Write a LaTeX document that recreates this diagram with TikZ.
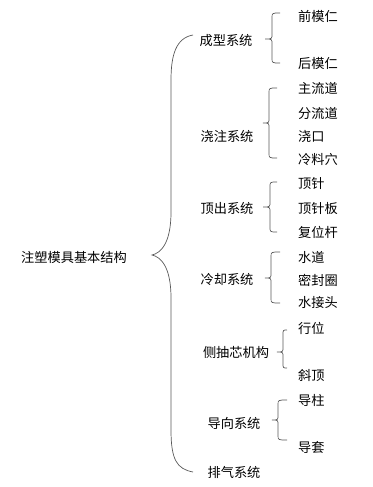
\documentclass[tikz,border=0pt]{standalone}
\usepackage{fontspec}
\setmainfont{Noto Sans CJK SC}
\begin{document}
\begin{tikzpicture}[x=1pt,y=-1pt,
  lbl/.style={inner sep=0pt,font=\fontsize{13.2}{14}\selectfont},
  bracel/.style={draw=black!65,line width=0.7pt}]
\useasboundingbox (0,0) rectangle (372,487);
\newcommand{\mybrace}[6]{% xtip xline xend ytop ytip ybot
  \draw[bracel] (#3,#4) .. controls (#2,#4) .. (#2,#4+5) -- (#2,#5-5)
    .. controls (#2,#5) .. (#1,#5) .. controls (#2,#5) .. (#2,#5+5)
    -- (#2,#6-5) .. controls (#2,#6) .. (#3,#6);}
% root
\node[lbl] (root) at (74,257) {注塑模具基本结构};
% big brace
\draw[bracel] (193,35) .. controls (176,38) and (171,55) .. (171,80) -- (171,212)
  .. controls (171,243) and (161,253) .. (152,255)
  .. controls (161,257) and (171,267) .. (171,298) -- (171,430)
  .. controls (171,460) and (177,469) .. (193,472);
% level 1
\node[lbl] (s1) at (226,41) {成型系统};
\node[lbl] (s2) at (227,136) {浇注系统};
\node[lbl] (s3) at (227,208) {顶出系统};
\node[lbl] (s4) at (227,279) {冷却系统};
\node[lbl] (s5) at (236,352) {侧抽芯机构};
\node[lbl] (s6) at (234,423) {导向系统};
\node[lbl] (s7) at (234,472) {排气系统};
% level 2
\node[lbl,anchor=west] (a1) at (298,16) {前模仁};
\node[lbl,anchor=west] (a2) at (298,63) {后模仁};
\node[lbl,anchor=west] (b1) at (298,88) {主流道};
\node[lbl,anchor=west] (b2) at (298,113) {分流道};
\node[lbl,anchor=west] (b3) at (298,136) {浇口};
\node[lbl,anchor=west] (b4) at (298,159) {冷料穴};
\node[lbl,anchor=west] (c1) at (298,184) {顶针};
\node[lbl,anchor=west] (c2) at (298,208) {顶针板};
\node[lbl,anchor=west] (c3) at (298,232) {复位杆};
\node[lbl,anchor=west] (d1) at (298,257) {水道};
\node[lbl,anchor=west] (d2) at (298,280) {密封圈};
\node[lbl,anchor=west] (d3) at (298,303) {水接头};
\node[lbl,anchor=west] (e1) at (298,328) {行位};
\node[lbl,anchor=west] (e2) at (298,375) {斜顶};
\node[lbl,anchor=west] (f1) at (298,400) {导柱};
\node[lbl,anchor=west] (f2) at (298,447) {导套};
% small braces
\mybrace{265}{272}{280}{13}{39}{63}
\mybrace{263}{269}{277}{88}{123}{158}
\mybrace{263}{270}{277}{182}{207}{232}
\mybrace{265}{271}{280}{252}{278}{303}
\mybrace{277}{283}{287}{330}{352}{368}
\mybrace{272}{278}{287}{400}{420}{440}
\end{tikzpicture}
\end{document}
